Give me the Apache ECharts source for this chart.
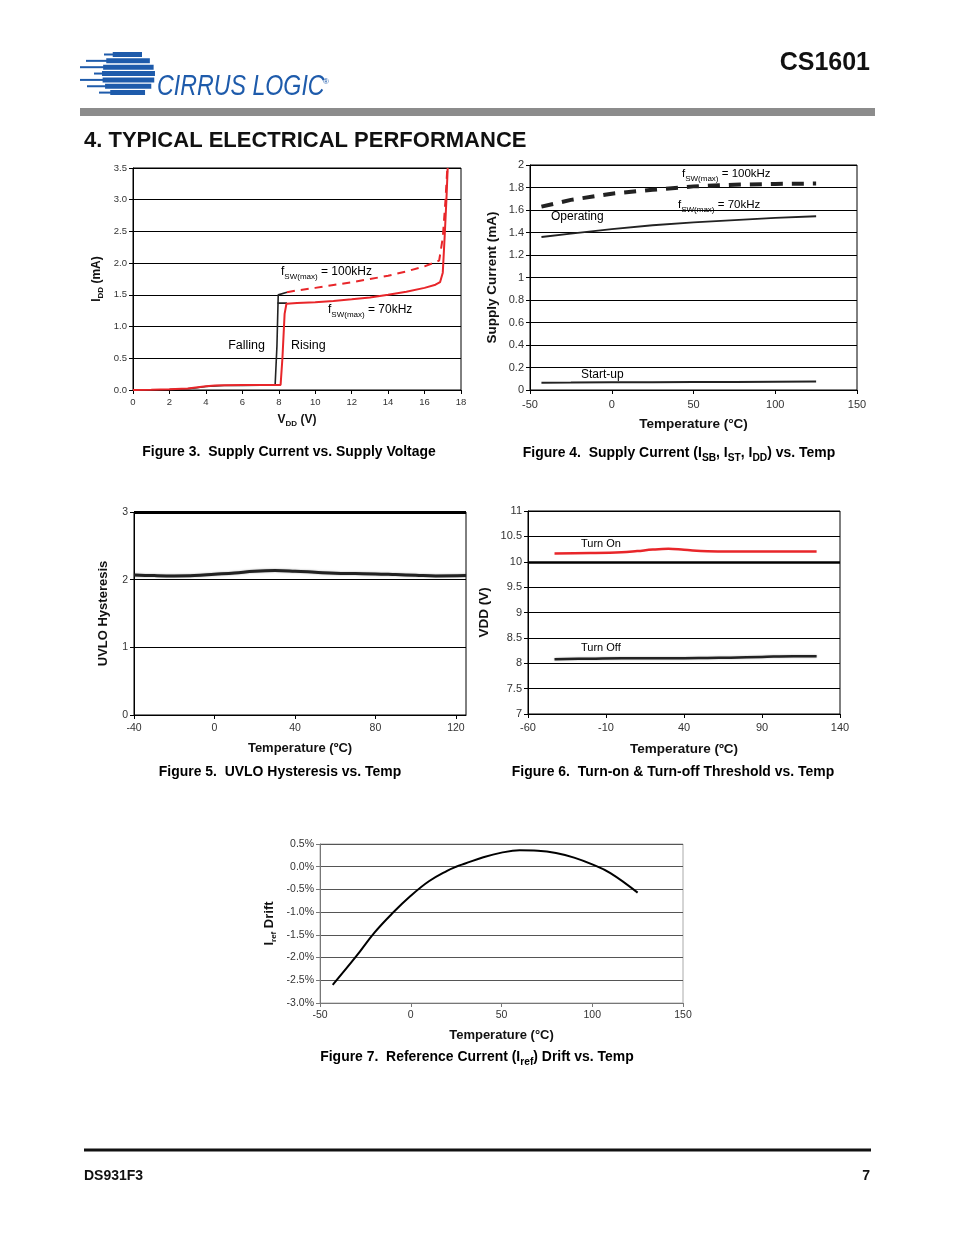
<!DOCTYPE html>
<html><head><meta charset="utf-8">
<script src="https://cdn.jsdelivr.net/npm/echarts@6/dist/echarts.min.js"></script>
<style>html,body{margin:0;padding:0;background:#fff}#c{width:954px;height:1235px}</style>
</head><body><div id="c"></div>
<script>
// ---------- Figure 3: Supply current vs supply voltage ----------
const fig3Falling = [[0,0],[1,0.003],[2,0.008],[3,0.02],[3.5,0.035],[4,0.055],[4.5,0.065],[5,0.07],[6,0.072],[7,0.075],[7.8,0.08],[7.9,0.7],[7.97,1.5],[8.05,1.52],[8.45,1.54]];
const fig3Falling70 = [[7.93,1.37],[8.45,1.37]];
const fig3Rising70 = [[0,0],[1,0.003],[2,0.01],[3,0.025],[4,0.06],[4.5,0.07],[5,0.075],[6,0.078],[7,0.08],[8.1,0.08],[8.2,0.5],[8.32,1.2],[8.42,1.36],[9,1.37],[10,1.385],[11,1.405],[12,1.43],[13,1.46],[14,1.5],[15,1.55],[16,1.61],[16.6,1.66],[16.85,1.7],[17.0,1.85],[17.1,2.4],[17.2,3.0],[17.27,3.5]];
const fig3Rising100 = [[8.45,1.54],[9,1.57],[10,1.61],[11,1.655],[12,1.7],[13,1.75],[14,1.8],[15,1.87],[16,1.95],[16.8,2.04],[17.0,2.4],[17.15,3.0],[17.25,3.5]];

// ---------- Figure 4: Supply current vs temp ----------
const fig4Temp = [-43,-25,0,25,50,75,100,125];
const fig4Fsw100 = [1.63,1.69,1.745,1.78,1.81,1.825,1.832,1.835];
const fig4Fsw70 = [1.36,1.39,1.43,1.465,1.49,1.51,1.53,1.545];
const fig4Startup = [0.065,0.066,0.068,0.07,0.071,0.072,0.074,0.075];

// ---------- Figure 5: UVLO hysteresis vs temp ----------
const fig5Temp = [-40,-30,-20,-10,0,10,20,30,40,50,60,70,80,90,100,110,125];
const fig5Uvlo = [2.07,2.06,2.055,2.06,2.08,2.10,2.125,2.135,2.125,2.11,2.095,2.09,2.085,2.075,2.065,2.055,2.06];

// ---------- Figure 6: Turn-on / turn-off threshold vs temp ----------
const fig6Temp = [-43,-20,0,10,20,30,40,55,70,90,110,125];
const fig6TurnOn = [10.165,10.17,10.185,10.21,10.24,10.255,10.235,10.205,10.2,10.2,10.2,10.2];
const fig6TurnOff = [8.08,8.09,8.1,8.1,8.1,8.1,8.1,8.105,8.11,8.125,8.14,8.14];

// ---------- Figure 7: Iref drift vs temp ----------
const fig7Temp = [-43,-30,-20,-10,0,10,20,25,30,40,50,60,70,80,90,100,110,125];
const fig7Drift = [-2.6,-1.97,-1.45,-1.02,-0.64,-0.32,-0.09,0.0,0.07,0.21,0.31,0.36,0.35,0.3,0.2,0.05,-0.14,-0.57];

const pair = (xs, ys) => xs.map((x, i) => [x, ys[i]]);

const FONT = '"Liberation Sans", Arial, sans-serif';
const RED = '#e8262a';
const BLUE = '#1e5bab';

const subRich = (size) => ({
  b: {fontFamily: FONT, fontWeight: 'bold', fontSize: size, lineHeight: size + 5, verticalAlign: 'middle', color: '#111'},
  s: {fontFamily: FONT, fontWeight: 'bold', fontSize: Math.round(size * 0.65), lineHeight: size, verticalAlign: 'bottom', color: '#111'}
});
const nRich = (size) => ({
  n: {fontFamily: FONT, fontSize: size, lineHeight: size + 6, verticalAlign: 'middle', color: '#222'},
  s: {fontFamily: FONT, fontSize: Math.round(size * 0.68), lineHeight: size, verticalAlign: 'bottom', color: '#222'}
});

function xAxis(grid, min, max, interval, name, gap, fs, opt) {
  opt = opt || {};
  return {
    gridIndex: grid, type: 'value', min, max, interval,
    name, nameLocation: 'middle', nameGap: gap,
    nameTextStyle: {fontFamily: FONT, fontWeight: 'bold', fontSize: fs + 2.5, color: '#111', rich: subRich(fs + 2.5)},
    axisLine: {show: true, onZero: false, lineStyle: {color: opt.axisColor || '#000', width: 1}},
    axisTick: {show: true, inside: false, length: 4, lineStyle: {color: opt.axisColor || '#000'}},
    axisLabel: {fontFamily: FONT, fontSize: fs, color: '#333', margin: opt.margin || 7, showMaxLabel: opt.showMaxLabel !== false},
    splitLine: {show: false}
  };
}
function yAxis(grid, min, max, interval, name, gap, fs, opt) {
  opt = opt || {};
  return {
    gridIndex: grid, type: 'value', min, max, interval,
    name, nameLocation: 'middle', nameGap: gap,
    nameTextStyle: {fontFamily: FONT, fontWeight: 'bold', fontSize: fs + 2.5, color: '#111', rich: subRich(fs + 2.5)},
    axisLine: {show: true, onZero: false, lineStyle: {color: opt.axisColor || '#000', width: 1}},
    axisTick: {show: true, inside: false, length: 4, lineStyle: {color: opt.axisColor || '#000'}},
    axisLabel: {fontFamily: FONT, fontSize: fs, color: '#333', margin: 6, formatter: opt.formatter},
    splitLine: {show: true, lineStyle: {color: opt.splitColor || '#000', width: 1}}
  };
}

const grids = [
  {left: 133, top: 168, width: 328, height: 222},
  {left: 530, top: 165, width: 327, height: 225},
  {left: 134, top: 512, width: 332, height: 203},
  {left: 528, top: 511, width: 312, height: 203},
  {left: 320, top: 844, width: 363, height: 159}
].map((g, i) => Object.assign({show: true, borderColor: i === 4 ? '#aaa' : '#000', borderWidth: 1, backgroundColor: 'transparent'}, g));

const line = (xi, data, color, width, extra) => Object.assign({
  type: 'line', xAxisIndex: xi, yAxisIndex: xi, data, symbol: 'none', silent: true,
  lineStyle: {color, width}
}, extra || {});

// ---------- page graphics ----------
const graphic = [];
// logo stripes
const logoLeft = [104, 86, 80, 94, 80, 87, 99];
for (let i = 0; i < 7; i++) {
  const yTop = 52 + i * 6.35, h = 5, yc = yTop + h / 2;
  const dy = (yc - 74.5) / 24;
  const k = Math.sqrt(Math.max(0, 1 - dy * dy));
  const xr = 126 + 29 * k;
  const xb = Math.max(126 - 24 * k, logoLeft[i] + 6);
  graphic.push({type: 'rect', shape: {x: xb, y: yTop, width: xr - xb, height: h}, style: {fill: BLUE}, silent: true});
  graphic.push({type: 'rect', shape: {x: logoLeft[i], y: yTop + 1.5, width: xb - logoLeft[i] + 1, height: 2}, style: {fill: BLUE}, silent: true});
}
graphic.push({type: 'text', x: 157, y: 87, scaleX: 0.8, style: {text: 'CIRRUS LOGIC', font: 'italic 29px ' + FONT, fill: BLUE, verticalAlign: 'middle'}, silent: true});
graphic.push({type: 'text', x: 323, y: 78, style: {text: '®', font: '8px ' + FONT, fill: BLUE}, silent: true});
graphic.push({type: 'text', x: 870, y: 63, style: {text: 'CS1601', font: 'bold 25px ' + FONT, fill: '#111', align: 'right', verticalAlign: 'middle'}, silent: true});
graphic.push({type: 'rect', shape: {x: 80, y: 108, width: 795, height: 8}, style: {fill: '#8c8c8c'}, silent: true});
graphic.push({type: 'text', x: 84, y: 141, style: {text: '4. TYPICAL ELECTRICAL PERFORMANCE', font: 'bold 22px ' + FONT, fill: '#111', verticalAlign: 'middle'}, silent: true});

// captions
const capRich = {
  b: {fontFamily: FONT, fontWeight: 'bold', fontSize: 15, lineHeight: 21, verticalAlign: 'middle', color: '#111'},
  s: {fontFamily: FONT, fontWeight: 'bold', fontSize: 11, lineHeight: 15, verticalAlign: 'bottom', color: '#111'}
};
const caps = [
  [289, 452, '{b|Figure 3.  Supply Current vs. Supply Voltage}'],
  [679, 453, '{b|Figure 4.  Supply Current (I}{s|SB}{b|, I}{s|ST}{b|, I}{s|DD}{b|) vs. Temp}'],
  [280, 772, '{b|Figure 5.  UVLO Hysteresis vs. Temp}'],
  [673, 772, '{b|Figure 6.  Turn-on & Turn-off Threshold vs. Temp}'],
  [477, 1057, '{b|Figure 7.  Reference Current (I}{s|ref}{b|) Drift vs. Temp}']
];
caps.forEach(c => graphic.push({type: 'text', x: c[0], y: c[1], scaleX: 0.93, style: {text: c[2], rich: capRich, align: 'center', verticalAlign: 'middle'}, silent: true}));

// annotations
const ann = (x, y, text, size, extra) => graphic.push({type: 'text', x, y, style: Object.assign({text, rich: nRich(size), verticalAlign: 'middle'}, extra || {}), silent: true});
ann(281, 272, '{n|f}{s|SW(max)}{n| = 100kHz}', 12);
ann(328, 310, '{n|f}{s|SW(max)}{n| = 70kHz}', 12);
ann(265, 346, '{n|Falling}', 12.5, {align: 'right'});
ann(291, 346, '{n|Rising}', 12.5);
ann(682, 174, '{n|f}{s|SW(max)}{n| = 100kHz}', 11.5);
ann(666, 205, '{n|f}{s|SW(max)}{n| = 70kHz}', 11.5, {backgroundColor: '#fff', padding: [0, 12, 0, 12]});
ann(551, 217, '{n|Operating}', 12);
ann(581, 375, '{n|Start-up}', 12);
ann(581, 544, '{n|Turn On}', 11);
ann(581, 648, '{n|Turn Off}', 11);

// footer
graphic.push({type: 'rect', shape: {x: 84, y: 1148.5, width: 787, height: 3}, style: {fill: '#111'}, silent: true});
graphic.push({type: 'text', x: 84, y: 1176, style: {text: 'DS931F3', font: 'bold 14px ' + FONT, fill: '#111', verticalAlign: 'middle'}, silent: true});
graphic.push({type: 'text', x: 870, y: 1176, style: {text: '7', font: 'bold 14px ' + FONT, fill: '#111', align: 'right', verticalAlign: 'middle'}, silent: true});

const option = {
  animation: false,
  backgroundColor: '#fff',
  grid: grids,
  xAxis: [
    xAxis(0, 0, 18, 2, '{b|V}{s|DD}{b| (V)}', 21, 9.5),
    xAxis(1, -50, 150, 50, 'Temperature (°C)', 27, 11, {margin: 9}),
    xAxis(2, -40, 125, 40, 'Temperature (ºC)', 27, 10.5, {showMaxLabel: false, margin: 8}),
    xAxis(3, -60, 140, 50, 'Temperature (ºC)', 28, 11, {margin: 8}),
    xAxis(4, -50, 150, 50, 'Temperature (°C)', 26, 10.5, {axisColor: '#777'})
  ],
  yAxis: [
    yAxis(0, 0, 3.5, 0.5, '{b|I}{s|DD}{b| (mA)}', 28, 9.5, {formatter: v => v.toFixed(1)}),
    yAxis(1, 0, 2, 0.2, 'Supply Current (mA)', 31, 11),
    yAxis(2, 0, 3, 1, 'UVLO Hysteresis', 24, 10.5),
    yAxis(3, 7, 11, 0.5, 'VDD (V)', 37, 11),
    yAxis(4, -3, 0.5, 0.5, '{b|I}{s|ref}{b| Drift}', 42, 10.5, {formatter: v => v.toFixed(1) + '%', splitColor: '#555', axisColor: '#777'})
  ],
  graphic,
  series: [
    line(0, fig3Falling, '#222', 1.6),
    line(0, fig3Falling70, '#222', 1.6),
    line(0, fig3Rising100, RED, 2, {lineStyle: {color: RED, width: 2, type: [8, 6]}}),
    line(0, fig3Rising70, RED, 2),
    line(1, pair(fig4Temp, fig4Fsw100), '#222', 4, {lineStyle: {color: '#222', width: 4, type: [12, 9]}}),
    line(1, pair(fig4Temp, fig4Fsw70), '#222', 2),
    line(1, pair(fig4Temp, fig4Startup), '#222', 2),
    line(2, pair(fig5Temp, fig5Uvlo), '#222', 3, {smooth: 0.4, lineStyle: {color: '#222', width: 3, shadowColor: 'rgba(0,0,0,0.35)', shadowBlur: 2},
      markLine: {silent: true, symbol: 'none', label: {show: false}, lineStyle: {color: '#000', width: 3, type: 'solid'}, data: [{yAxis: 3}]}}),
    line(3, pair(fig6Temp, fig6TurnOn), RED, 2.5, {smooth: 0.4,
      markLine: {silent: true, symbol: 'none', label: {show: false}, lineStyle: {color: '#000', width: 2.5, type: 'solid'}, data: [{yAxis: 10}]}}),
    line(3, pair(fig6Temp, fig6TurnOff), '#222', 2.5, {smooth: 0.4, lineStyle: {color: '#222', width: 2.5, shadowColor: 'rgba(0,0,0,0.3)', shadowBlur: 2}}),
    line(4, pair(fig7Temp, fig7Drift), '#000', 2, {smooth: 0.4})
  ]
};
const chart = echarts.init(document.getElementById('c'));
chart.setOption(option);
</script>
</body></html>
